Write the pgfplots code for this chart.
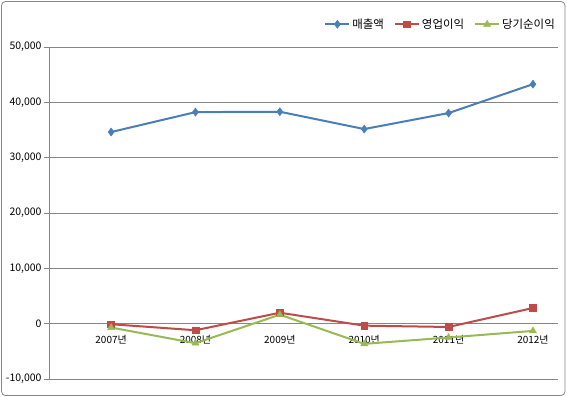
\documentclass[border=0pt]{standalone}
\usepackage{fontspec}
\setmainfont{Noto Sans CJK KR}
\usepackage{pgfplots}
\pgfplotsset{compat=1.18}
\definecolor{sBlue}{HTML}{4A7EBB}
\definecolor{sRed}{HTML}{BE4B48}
\definecolor{sGreen}{HTML}{98B954}
\definecolor{gridc}{HTML}{868686}
\begin{document}
\begin{tikzpicture}
\useasboundingbox (0,0) rectangle (567bp,397bp);
\draw[gridc, line width=0.8bp, rounded corners=4bp] (1.5bp,1.5bp) rectangle (565bp,395.5bp);
\begin{axis}[
  at={(49bp,18bp)}, anchor=south west,
  scale only axis, width=509bp, height=332bp,
  xmin=-0.736, xmax=5.297,
  ymin=-10000, ymax=50000,
  axis x line=middle, axis y line=left,
  axis line style={gridc, line width=0.9bp, -},
  xtick={0,1,2,3,4,5},
  xticklabels={2007년,2008년,2009년,2010년,2011년,2012년},
  major x tick style={draw=none},
  xticklabel style={font=\fontsize{10}{12}\selectfont, yshift=-3bp},
  extra x ticks={-0.261,0.531,1.323,2.115,2.907,3.699,4.491,5.283},
  extra x tick labels={},
  extra x tick style={major tick length=5bp, tick style={gridc, line width=0.9bp}},
  ytick={-10000,0,10000,20000,30000,40000,50000},
  scaled y ticks=false,
  yticklabel={\pgfmathprintnumber[fixed, precision=0, 1000 sep={,}, assume math mode=true]{\tick}},
  ymajorgrids,
  grid style={gridc, line width=0.9bp},
  y tick style={gridc, line width=0.9bp},
  major tick length=5bp,
  tick align=outside,
  yticklabel style={font=\fontsize{10.5}{12}\selectfont, xshift=1bp},
  legend style={at={(1,1)}, anchor=south east, yshift=13bp, xshift=2bp, draw=none, fill=none,
    font=\fontsize{11.5}{13}\selectfont, /tikz/every even column/.append style={column sep=8bp}},
  legend columns=3,
  legend image code/.code={\draw[#1, mark repeat=2, mark phase=2] plot coordinates {(0bp,0bp) (12bp,0bp) (24bp,0bp)};},
  clip=false,
]
\addplot[sBlue, line width=2bp, mark=diamond*, mark size=4bp, mark options={solid, fill=sBlue, line width=0.5bp}]
  coordinates {(0,34630) (1,38230) (2,38300) (3,35170) (4,38060) (5,43280)};
\addlegendentry{매출액}
\addplot[sRed, line width=2bp, mark=square*, mark size=3.4bp, mark options={solid, fill=sRed, line width=0.5bp}]
  coordinates {(0,-100) (1,-1190) (2,1980) (3,-360) (4,-600) (5,2830)};
\addlegendentry{영업이익}
\addplot[sGreen, line width=2bp, mark=triangle*, mark size=4bp, mark options={solid, fill=sGreen, line width=0.5bp}]
  coordinates {(0,-700) (1,-3530) (2,1620) (3,-3650) (4,-2500) (5,-1310)};
\addlegendentry{당기순이익}
\end{axis}
\end{tikzpicture}
\end{document}
